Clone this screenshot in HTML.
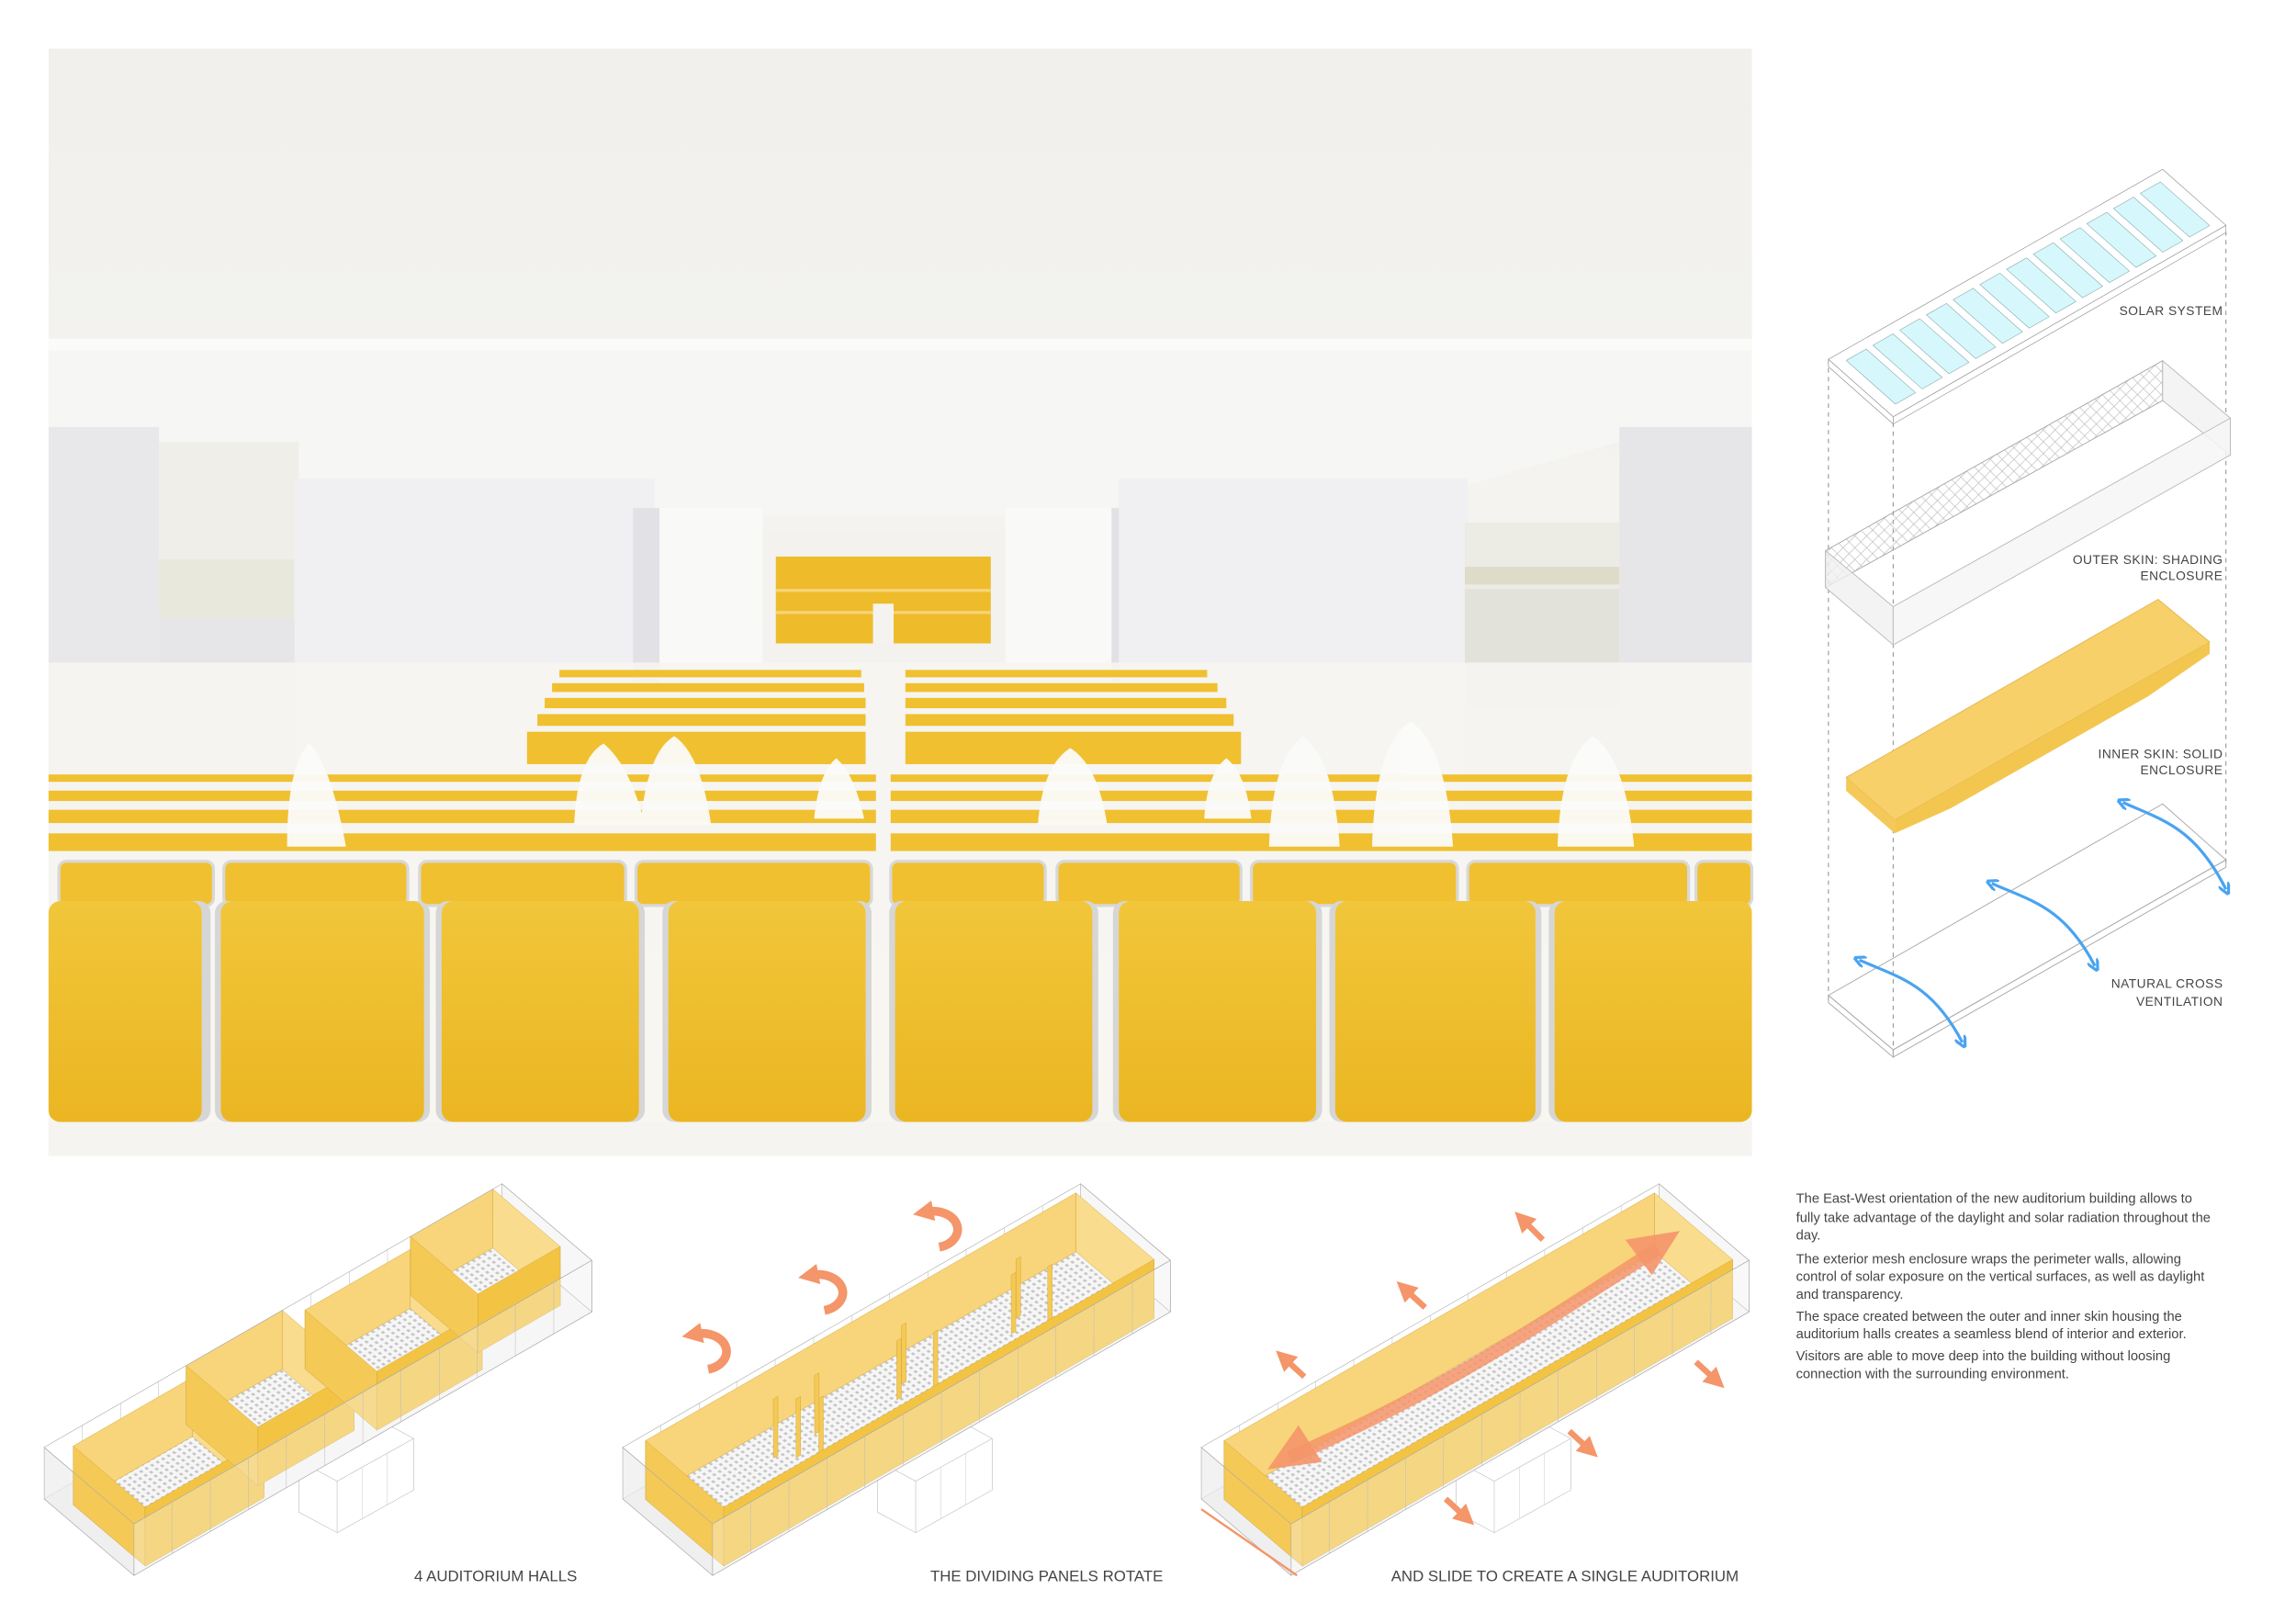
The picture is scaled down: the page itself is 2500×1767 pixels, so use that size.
<!DOCTYPE html>
<html><head><meta charset="utf-8"><style>
html,body{margin:0;padding:0;background:#fff;}
svg{display:block;}
text{font-family:"Liberation Sans",Arial,sans-serif;}
.l *{vector-effect:non-scaling-stroke;}
</style></head><body>
<svg width="2500" height="1767" viewBox="0 0 1559.6 1102.3" xmlns="http://www.w3.org/2000/svg">
<defs>
<linearGradient id="ceil" x1="0" y1="0" x2="0" y2="1"><stop offset="0" stop-color="#f1f0ec"/><stop offset="0.3" stop-color="#f3f2ee"/><stop offset="1" stop-color="#f8f8f6"/></linearGradient>
<linearGradient id="seat" x1="0" y1="0" x2="0" y2="1"><stop offset="0" stop-color="#f1c63a"/><stop offset="1" stop-color="#ebb622"/></linearGradient>
<marker id="ba" markerWidth="8" markerHeight="8" refX="4" refY="4" orient="auto-start-reverse" markerUnits="userSpaceOnUse"><path d="M0,0 L8,4 L0,8" fill="none" stroke="#4aa3f0" stroke-width="2"/></marker>
<marker id="oa" markerWidth="14" markerHeight="14" refX="4" refY="7" orient="auto" markerUnits="userSpaceOnUse"><path d="M0,0 L14,7 L0,14 Z" fill="#f4956a"/></marker>
<pattern id="seats" patternUnits="userSpaceOnUse" width="0.012" height="0.05"><rect x="0" y="0" width="0.012" height="0.05" fill="#f6f6f6"/><rect x="0.003" y="0.012" width="0.005" height="0.025" fill="#c4c4c4"/></pattern>
<pattern id="mesh" patternUnits="userSpaceOnUse" width="8" height="8"><path d="M0,0 L8,8 M8,0 L0,8" stroke="#bbb" stroke-width="0.4"/></pattern>

<g id="box" class="l">
 <polygon points="203,992 255,963 281,977 281,1012 229,1041 203,1027" fill="#fff" stroke="#bbb" stroke-width="0.6"/>
 <polyline points="203,992 229,1006 281,977" fill="none" stroke="#bbb" stroke-width="0.6"/>
 <line x1="229" y1="1006" x2="229" y2="1041" stroke="#bbb" stroke-width="0.6"/>
 <line x1="246" y1="997" x2="246" y2="1031" stroke="#ccc" stroke-width="0.5"/>
 <line x1="263" y1="987" x2="263" y2="1022" stroke="#ccc" stroke-width="0.5"/>
 <g transform="matrix(311,-179,61,52,30,983)" stroke="#aaa" stroke-width="0.6" fill="none">
  <polygon points="-0.0788,0.402 0.9212,0.402 0.9212,1.402 -0.0788,1.402" fill="#f5f5f5"/>
  <polygon points="0,0 -0.0788,0.402 -0.0788,1.402 0,1" fill="#ececec" fill-opacity="0.7"/>
  <polygon points="1,0 0.9212,0.402 0.9212,1.402 1,1" fill="#f0f0f0" fill-opacity="0.5"/>
  <g stroke="#bbb" stroke-width="0.5">
   <line x1="0.083" y1="0" x2="0.0042" y2="0.402"/><line x1="0.167" y1="0" x2="0.088" y2="0.402"/><line x1="0.25" y1="0" x2="0.171" y2="0.402"/><line x1="0.333" y1="0" x2="0.254" y2="0.402"/><line x1="0.417" y1="0" x2="0.338" y2="0.402"/><line x1="0.5" y1="0" x2="0.421" y2="0.402"/><line x1="0.583" y1="0" x2="0.504" y2="0.402"/><line x1="0.667" y1="0" x2="0.588" y2="0.402"/><line x1="0.75" y1="0" x2="0.671" y2="0.402"/><line x1="0.833" y1="0" x2="0.754" y2="0.402"/><line x1="0.917" y1="0" x2="0.838" y2="0.402"/>
  </g>
 </g>
</g>
<g id="boxfront" class="l">
 <g transform="matrix(311,-179,61,52,30,983)" stroke="#aaa" stroke-width="0.6" fill="none">
  <polygon points="0,0 1,0 1,1 0,1"/>
  <polygon points="0,1 1,1 0.9212,1.402 -0.0788,1.402" fill="#fafafa" fill-opacity="0.35"/>
  <g stroke="#bbb" stroke-width="0.5">
   <line x1="0.083" y1="1" x2="0.0042" y2="1.402"/><line x1="0.167" y1="1" x2="0.088" y2="1.402"/><line x1="0.25" y1="1" x2="0.171" y2="1.402"/><line x1="0.333" y1="1" x2="0.254" y2="1.402"/><line x1="0.417" y1="1" x2="0.338" y2="1.402"/><line x1="0.5" y1="1" x2="0.421" y2="1.402"/><line x1="0.583" y1="1" x2="0.504" y2="1.402"/><line x1="0.667" y1="1" x2="0.588" y2="1.402"/><line x1="0.75" y1="1" x2="0.671" y2="1.402"/><line x1="0.833" y1="1" x2="0.754" y2="1.402"/><line x1="0.917" y1="1" x2="0.838" y2="1.402"/>
  </g>
 </g>
</g>
</defs>
<rect width="1559.6" height="1102.3" fill="#fff"/>

<!-- RENDER -->
<rect x="33" y="33" width="1157" height="752" fill="url(#ceil)"/>
<rect x="33" y="230" width="1157" height="8" fill="#fbfbfa"/>
<polygon points="33,238 1190,238 1190,290 1100,300 995,330 760,350 445,350 200,330 110,300 33,290" fill="#f6f6f4"/>
<rect x="33" y="290" width="75" height="280" fill="#e8e8ea"/>
<rect x="108" y="300" width="95" height="180" fill="#efeee8"/>
<rect x="108" y="380" width="95" height="40" fill="#e4e4d6" opacity="0.6"/>
<rect x="108" y="420" width="95" height="120" fill="#e6e6e8"/>
<rect x="200" y="325" width="245" height="240" fill="#f0f0f2"/>
<rect x="430" y="345" width="18" height="120" fill="#e2e2e6"/>
<rect x="448" y="345" width="70" height="110" fill="#f9f9f8"/>
<rect x="518" y="360" width="165" height="90" fill="#f3f2ee"/>
<rect x="527" y="378" width="146" height="59" fill="#eebc2a"/>
<rect x="527" y="400" width="146" height="2" fill="#f6d57a"/>
<rect x="527" y="415" width="146" height="2" fill="#f6d57a"/>
<rect x="593" y="410" width="14" height="27" fill="#f4f3ef"/>
<rect x="683" y="345" width="75" height="110" fill="#f9f9f8"/>
<rect x="755" y="345" width="18" height="120" fill="#e2e2e6"/>
<rect x="760" y="325" width="237" height="240" fill="#f0f0f2"/>
<rect x="995" y="355" width="105" height="125" fill="#ecebe4"/>
<rect x="995" y="385" width="105" height="12" fill="#dedcc8"/>
<rect x="995" y="400" width="105" height="80" fill="#e2e2da"/>
<rect x="995" y="480" width="105" height="80" fill="#e4e4e6"/>
<rect x="1100" y="290" width="90" height="280" fill="#e6e6e8"/>
<rect x="33" y="450" width="1157" height="335" fill="#f6f5f1" opacity="0.9"/>
<g fill="#f0c030">
<rect x="380" y="455" width="205" height="5"/><rect x="375" y="464" width="212" height="6"/><rect x="370" y="474" width="218" height="7"/><rect x="365" y="485" width="223" height="8"/><rect x="358" y="497" width="230" height="22"/>
<rect x="615" y="455" width="205" height="5"/><rect x="615" y="464" width="212" height="6"/><rect x="615" y="474" width="218" height="7"/><rect x="615" y="485" width="223" height="8"/><rect x="615" y="497" width="228" height="22"/>
</g>
<g fill="#f0c030">
<rect x="33" y="526" width="562" height="5"/><rect x="605" y="526" width="585" height="5"/>
<rect x="33" y="537" width="562" height="7"/><rect x="605" y="537" width="585" height="7"/>
<rect x="33" y="550" width="562" height="9"/><rect x="605" y="550" width="585" height="9"/>
<rect x="33" y="566" width="562" height="12"/><rect x="605" y="566" width="585" height="12"/>
</g>
<g fill="#f0c030" stroke="#d8d8d8" stroke-width="2">
<rect x="40" y="585" width="105" height="30" rx="5"/><rect x="152" y="585" width="125" height="30" rx="5"/><rect x="285" y="585" width="140" height="30" rx="5"/><rect x="432" y="585" width="160" height="30" rx="5"/>
<rect x="605" y="585" width="105" height="30" rx="5"/><rect x="718" y="585" width="125" height="30" rx="5"/><rect x="850" y="585" width="140" height="30" rx="5"/><rect x="997" y="585" width="150" height="30" rx="5"/><rect x="1152" y="585" width="38" height="30" rx="5"/>
</g>
<g fill="#fbfbfa" opacity="0.95">
<path d="M195,575 Q195,520 210,505 Q225,520 235,575Z"/>
<path d="M390,560 Q392,515 410,505 Q428,520 438,560Z"/>
<path d="M435,560 Q440,510 458,500 Q476,512 483,560Z"/>
<path d="M553,556 Q556,525 568,515 Q580,525 587,556Z"/>
<path d="M705,560 Q708,520 727,508 Q746,520 752,560Z"/>
<path d="M818,556 Q820,525 833,515 Q846,525 850,556Z"/>
<path d="M862,575 Q864,515 885,500 Q906,515 910,575Z"/>
<path d="M932,575 Q934,505 958,490 Q982,505 987,575Z"/>
<path d="M1058,575 Q1060,515 1082,500 Q1104,515 1110,575Z"/>
</g>
<g>
<rect x="33" y="612" width="110" height="150" rx="8" fill="#d6d6d6"/><rect x="33" y="612" width="104" height="150" rx="8" fill="url(#seat)"/>
<rect x="146" y="612" width="146" height="150" rx="8" fill="#d6d6d6"/><rect x="150" y="612" width="138" height="150" rx="8" fill="url(#seat)"/>
<rect x="296" y="612" width="142" height="150" rx="8" fill="#d6d6d6"/><rect x="300" y="612" width="134" height="150" rx="8" fill="url(#seat)"/>
<rect x="450" y="612" width="142" height="150" rx="8" fill="#d6d6d6"/><rect x="454" y="612" width="134" height="150" rx="8" fill="url(#seat)"/>
<rect x="604" y="612" width="142" height="150" rx="8" fill="#d6d6d6"/><rect x="608" y="612" width="134" height="150" rx="8" fill="url(#seat)"/>
<rect x="756" y="612" width="142" height="150" rx="8" fill="#d6d6d6"/><rect x="760" y="612" width="134" height="150" rx="8" fill="url(#seat)"/>
<rect x="903" y="612" width="144" height="150" rx="8" fill="#d6d6d6"/><rect x="907" y="612" width="136" height="150" rx="8" fill="url(#seat)"/>
<rect x="1052" y="612" width="138" height="150" rx="8" fill="#d6d6d6"/><rect x="1056" y="612" width="134" height="150" rx="8" fill="url(#seat)"/>
</g>
<rect x="33" y="762" width="1157" height="23" fill="#f5f4f0"/>

<!-- RIGHT EXPLODED DIAGRAM -->
<g stroke="#999" stroke-width="0.7" stroke-dasharray="3,3" fill="none">
<line x1="1242" y1="244" x2="1242" y2="680"/><line x1="1286" y1="287" x2="1286" y2="718"/><line x1="1512" y1="157" x2="1512" y2="588"/>
</g>
<g class="l">
<polygon points="1242,244 1286,283 1286,288 1242,249" fill="#fff" stroke="#999" stroke-width="0.7"/>
<polygon points="1286,283 1512,153 1512,158 1286,288" fill="#fff" stroke="#999" stroke-width="0.7"/>
<polygon points="1242,244 1469,115 1512,153 1286,283" fill="#fff" stroke="#999" stroke-width="0.7"/>
<g transform="matrix(227,-129,44,39,1242,244)" fill="#d6f8fc" stroke="#8aa" stroke-width="0.6">
<rect x="0.03" y="0.12" width="0.06" height="0.76"/><rect x="0.11" y="0.12" width="0.06" height="0.76"/><rect x="0.19" y="0.12" width="0.06" height="0.76"/><rect x="0.27" y="0.12" width="0.06" height="0.76"/><rect x="0.35" y="0.12" width="0.06" height="0.76"/><rect x="0.43" y="0.12" width="0.06" height="0.76"/><rect x="0.51" y="0.12" width="0.06" height="0.76"/><rect x="0.59" y="0.12" width="0.06" height="0.76"/><rect x="0.67" y="0.12" width="0.06" height="0.76"/><rect x="0.75" y="0.12" width="0.06" height="0.76"/><rect x="0.83" y="0.12" width="0.06" height="0.76"/><rect x="0.91" y="0.12" width="0.06" height="0.76"/>
</g>
</g>
<text x="1510" y="214" font-size="8.6" fill="#444" text-anchor="end" letter-spacing="0.3">SOLAR SYSTEM</text>
<polygon points="1240,374 1469,245 1469,272 1240,399" fill="url(#mesh)" stroke="#aaa" stroke-width="0.6"/>
<polygon points="1469,245 1515,284 1515,309 1469,272" fill="#f4f4f4" stroke="#bbb" stroke-width="0.6"/>
<polygon points="1240,374 1286,412 1286,438 1240,399" fill="#f0f0f0" stroke="#bbb" stroke-width="0.6" fill-opacity="0.8"/>
<polygon points="1286,412 1515,284 1515,309 1286,438" fill="#f6f6f6" stroke="#bbb" stroke-width="0.6" fill-opacity="0.85"/>
<text x="1510" y="383" font-size="8.6" fill="#444" text-anchor="end" letter-spacing="0.3">OUTER SKIN: SHADING</text>
<text x="1510" y="394" font-size="8.6" fill="#444" text-anchor="end" letter-spacing="0.3">ENCLOSURE</text>
<polygon points="1254,528 1466,407 1501,436 1287,557" fill="#f7d06a" stroke="#e0b048" stroke-width="0.5"/>
<polygon points="1254,528 1287,557 1287,566 1254,537" fill="#f5c85a"/>
<polygon points="1287,557 1501,436 1501,444 1459,473 1325,549 1287,566" fill="#f3c650"/>
<text x="1510" y="515" font-size="8.6" fill="#444" text-anchor="end" letter-spacing="0.3">INNER SKIN: SOLID</text>
<text x="1510" y="526" font-size="8.6" fill="#444" text-anchor="end" letter-spacing="0.3">ENCLOSURE</text>
<polygon points="1242,676 1469,546 1512,584 1286,713" fill="none" stroke="#aaa" stroke-width="0.6"/>
<polygon points="1242,676 1286,713 1286,718 1242,681" fill="none" stroke="#aaa" stroke-width="0.6"/>
<polygon points="1286,713 1512,584 1512,589 1286,718" fill="none" stroke="#aaa" stroke-width="0.6"/>
<g stroke="#4aa3f0" stroke-width="2" fill="none" marker-start="url(#ba)" marker-end="url(#ba)">
<path d="M1263,652 C1290,664 1312,668 1333,708"/>
<path d="M1353,600 C1380,612 1402,616 1423,656"/>
<path d="M1442,545 C1469,557 1491,562 1512,604"/>
</g>
<text x="1510" y="671" font-size="8.6" fill="#444" text-anchor="end" letter-spacing="0.3">NATURAL CROSS</text>
<text x="1510" y="683" font-size="8.6" fill="#444" text-anchor="end" letter-spacing="0.3">VENTILATION</text>

<g font-size="9.2" fill="#444">
<text x="1220" y="817">The East-West orientation of the new auditorium building allows to</text>
<text x="1220" y="830">fully take advantage of the daylight and solar radiation throughout the</text>
<text x="1220" y="842">day.</text>
<text x="1220" y="858">The exterior mesh enclosure wraps the perimeter walls, allowing</text>
<text x="1220" y="870">control of solar exposure on the vertical surfaces, as well as daylight</text>
<text x="1220" y="882">and transparency.</text>
<text x="1220" y="897">The space created between the outer and inner skin housing the</text>
<text x="1220" y="909">auditorium halls creates a seamless blend of interior and exterior.</text>
<text x="1220" y="924">Visitors are able to move deep into the building without loosing</text>
<text x="1220" y="936">connection with the surrounding environment.</text>
</g>

<!-- Diagram 1 -->
<g>
<use href="#box"/>
<g class="l" transform="matrix(311,-179,61,52,30,983)" stroke="#c9a030" stroke-width="0.4">
 <polygon points="-0.05,0.58 0.21,0.58 0.21,1.38 -0.05,1.38" fill="url(#seats)" stroke="#bbb"/>
 <polygon points="0.04,0.12 0.3,0.12 0.21,0.58 -0.05,0.58" fill="#f8d47a"/>
 <polygon points="0.3,0.12 0.3,0.92 0.21,1.38 0.21,0.58" fill="#f9dc8e"/>
 <polygon points="0.04,0.12 0.04,0.92 -0.05,1.38 -0.05,0.58" fill="#f5c956"/>
 <polygon points="0.04,0.92 0.3,0.92 0.21,1.38 -0.05,1.38" fill="#f3c444"/>

 <polygon points="0.22,0.46 0.43,0.46 0.43,1.26 0.22,1.26" fill="url(#seats)" stroke="#bbb"/>
 <polygon points="0.31,0 0.52,0 0.43,0.46 0.22,0.46" fill="#f8d47a"/>
 <polygon points="0.52,0 0.52,0.8 0.43,1.26 0.43,0.46" fill="#f9dc8e"/>
 <polygon points="0.31,0 0.31,0.8 0.22,1.26 0.22,0.46" fill="#f5c956"/>
 <polygon points="0.31,0.8 0.52,0.8 0.43,1.26 0.22,1.26" fill="#f3c444"/>

 <polygon points="0.46,0.56 0.69,0.56 0.69,1.36 0.46,1.36" fill="url(#seats)" stroke="#bbb"/>
 <polygon points="0.55,0.1 0.78,0.1 0.69,0.56 0.46,0.56" fill="#f8d47a"/>
 <polygon points="0.78,0.1 0.78,0.9 0.69,1.36 0.69,0.56" fill="#f9dc8e"/>
 <polygon points="0.55,0.1 0.55,0.9 0.46,1.36 0.46,0.56" fill="#f5c956"/>
 <polygon points="0.55,0.9 0.78,0.9 0.69,1.36 0.46,1.36" fill="#f3c444"/>

 <polygon points="0.71,0.46 0.89,0.46 0.89,1.21 0.71,1.21" fill="url(#seats)" stroke="#bbb"/>
 <polygon points="0.8,0 0.98,0 0.89,0.46 0.71,0.46" fill="#f8d47a"/>
 <polygon points="0.98,0 0.98,0.75 0.89,1.21 0.89,0.46" fill="#f9dc8e"/>
 <polygon points="0.8,0 0.8,0.75 0.71,1.21 0.71,0.46" fill="#f5c956"/>
 <polygon points="0.8,0.75 0.98,0.75 0.89,1.21 0.71,1.21" fill="#f3c444"/>
</g>
<use href="#boxfront"/>
<text x="392" y="1074" font-size="10.5" fill="#444" text-anchor="end">4 AUDITORIUM HALLS</text>
</g>

<!-- Diagram 2 -->
<g transform="translate(393,0)">
<use href="#box"/>
<g class="l" transform="matrix(311,-179,61,52,30,983)" stroke="#c9a030" stroke-width="0.4">
 <polygon points="-0.05,0.51 0.89,0.51 0.89,1.38 -0.05,1.38" fill="url(#seats)" stroke="#bbb"/>
 <polygon points="0.04,0.05 0.98,0.05 0.89,0.51 -0.05,0.51" fill="#f8d47a"/>
 <polygon points="0.98,0.05 0.98,0.92 0.89,1.38 0.89,0.51" fill="#f9dc8e"/>
 <polygon points="0.04,0.05 0.04,0.92 -0.05,1.38 -0.05,0.51" fill="#f5c956"/>
 <g fill="#f5c956">
  <polygon points="0.27,0.3 0.28,0.3 0.19,0.76 0.18,0.76"/>
  <polygon points="0.3,0.4 0.31,0.4 0.22,0.86 0.21,0.86"/>
  <polygon points="0.33,0.5 0.34,0.5 0.25,0.96 0.24,0.96"/>
  <polygon points="0.36,0.3 0.37,0.3 0.28,0.76 0.27,0.76"/>
  <polygon points="0.52,0.4 0.53,0.4 0.44,0.86 0.43,0.86"/>
  <polygon points="0.55,0.3 0.56,0.3 0.47,0.76 0.46,0.76"/>
  <polygon points="0.58,0.5 0.59,0.5 0.5,0.96 0.49,0.96"/>
  <polygon points="0.77,0.4 0.78,0.4 0.69,0.86 0.68,0.86"/>
  <polygon points="0.8,0.3 0.81,0.3 0.72,0.76 0.71,0.76"/>
  <polygon points="0.83,0.5 0.84,0.5 0.75,0.96 0.74,0.96"/>
 </g>
 <polygon points="0.04,0.92 0.98,0.92 0.89,1.38 -0.05,1.38" fill="#f3c444"/>
</g>
<use href="#boxfront"/>
<g stroke="#f4956a" stroke-width="6" fill="none">
<path d="M88,930 A16,12 0 1 0 80,906" marker-end="url(#oa)"/>
<path d="M167,890 A16,12 0 1 0 159,866" marker-end="url(#oa)"/>
<path d="M245,847 A16,12 0 1 0 237,823" marker-end="url(#oa)"/>
</g>
<text x="397" y="1074" font-size="10.5" fill="#444" text-anchor="end">THE DIVIDING PANELS ROTATE</text>
</g>

<!-- Diagram 3 -->
<g transform="translate(786,0)">
<use href="#box"/>
<g class="l" transform="matrix(311,-179,61,52,30,983)" stroke="#c9a030" stroke-width="0.4">
 <polygon points="-0.05,0.51 0.89,0.51 0.89,1.38 -0.05,1.38" fill="url(#seats)" stroke="#bbb"/>
 <polygon points="0.04,0.05 0.98,0.05 0.89,0.51 -0.05,0.51" fill="#f8d47a"/>
 <polygon points="0.98,0.05 0.98,0.92 0.89,1.38 0.89,0.51" fill="#f9dc8e"/>
 <polygon points="0.04,0.05 0.04,0.92 -0.05,1.38 -0.05,0.51" fill="#f5c956"/>
 <polygon points="0.04,0.92 0.98,0.92 0.89,1.38 -0.05,1.38" fill="#f3c444"/>
</g>
<use href="#boxfront"/>
<path d="M90,990 C180,950 230,920 340,848" stroke="#f4956a" stroke-width="9" fill="none" opacity="0.85"/>
<polygon points="355,836 318,842 336,866" fill="#f4956a" opacity="0.9"/>
<polygon points="75,998 112,993 96,968" fill="#f4956a" opacity="0.9"/>
<line x1="30" y1="1025" x2="95" y2="1070" stroke="#f4956a" stroke-width="1.5"/>
<g stroke="#f4956a" stroke-width="4" marker-end="url(#oa)">
<line x1="100" y1="935" x2="88" y2="924"/>
<line x1="182" y1="888" x2="170" y2="877"/>
<line x1="262" y1="842" x2="250" y2="830"/>
<line x1="366" y1="925" x2="378" y2="936"/>
<line x1="280" y1="972" x2="292" y2="983"/>
<line x1="196" y1="1018" x2="208" y2="1029"/>
</g>
<text x="395" y="1074" font-size="10.5" fill="#444" text-anchor="end">AND SLIDE TO CREATE A SINGLE AUDITORIUM</text>
</g>
</svg>
</body></html>
